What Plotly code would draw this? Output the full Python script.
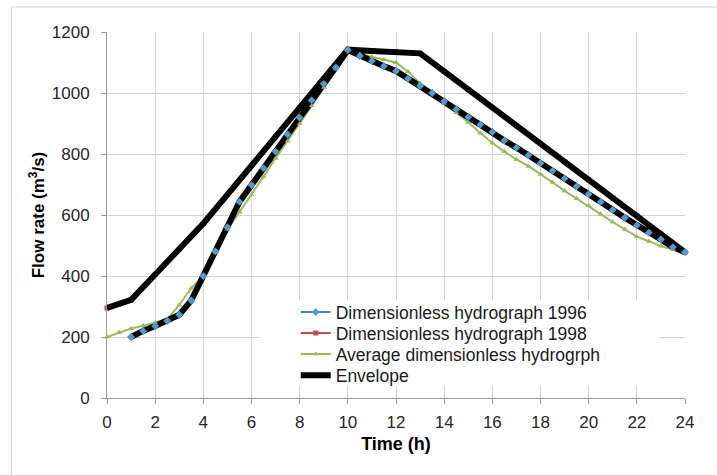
import plotly.graph_objects as go

# ---- data ----
t_1996 = [1, 1.5, 2, 2.5, 3, 3.5, 4, 4.5, 5, 5.5, 6, 6.5, 7, 7.5, 8, 8.5, 9, 9.5, 10,
          10.5, 11, 11.5, 12, 12.5, 13, 13.5, 14, 14.5, 15, 15.5, 16, 16.5, 17, 17.5,
          18, 18.5, 19, 19.5, 20, 20.5, 21, 21.5, 22, 22.5, 23, 23.5, 24]
q_1996 = [200, 220, 236, 253, 273, 320, 400, 481, 560, 643, 698, 754, 808, 864, 919, 976, 1030, 1084, 1141,
          1121, 1105, 1088, 1072, 1047, 1023, 1000, 973, 946, 921, 896, 872, 844, 821, 796,
          770, 745, 720, 694, 668, 643, 617, 591, 566, 542, 520, 495, 478]

t_1998 = [0, 1, 2, 3, 4, 5, 6, 7, 8, 9, 10, 11, 12, 13, 14, 15, 16, 17, 18, 19, 20, 21, 22, 23, 24]
q_1998 = [295, 322, 405, 488, 572, 667, 762, 857, 952, 1047, 1142, 1138, 1134, 1130,
          1071, 1011, 952, 893, 834, 774, 715, 656, 597, 537, 478]

t_avg = [0, 0.5, 1, 1.5, 2, 2.5, 3, 3.5, 4, 4.5, 5, 5.5, 6, 6.5, 7, 7.5, 8, 8.5, 9, 9.5, 10,
         10.5, 11, 11.5, 12, 12.5, 13, 13.5, 14, 14.5, 15, 15.5, 16, 16.5, 17, 17.5,
         18, 18.5, 19, 19.5, 20, 20.5, 21, 21.5, 22, 22.5, 23, 23.5, 24]
q_avg = [200, 215, 228, 237, 247, 258, 305, 360, 400, 476, 553, 610, 666, 726, 786, 843, 899, 958, 1018, 1079, 1140,
         1128, 1118, 1110, 1100, 1070, 1032, 1002, 966, 935, 904, 869, 836, 808, 782, 760,
         734, 707, 679, 654, 630, 603, 577, 553, 529, 514, 498, 487, 478]

# Envelope: upper boundary (1998) out, lower boundary (1996) back
t_env = t_1998 + t_1996[::-1]
q_env = q_1998 + q_1996[::-1]

x_ticks = [0, 2, 4, 6, 8, 10, 12, 14, 16, 18, 20, 22, 24]
y_ticks = [0, 200, 400, 600, 800, 1000, 1200]

names = ["Dimensionless hydrograph 1996", "Dimensionless hydrograph 1998",
         "Average dimensionless hydrogrph", "Envelope"]

BLUE = "#4F81BD"
BLUE_MK = "#4F9BD0"
RED = "#C0504D"
GREEN = "#9BBB59"

fig = go.Figure()
fig.add_trace(go.Scatter(x=t_1996, y=q_1996, name=names[0], mode="lines+markers",
                         line=dict(color=BLUE, width=2),
                         marker=dict(symbol="diamond", size=6, color=BLUE_MK),
                         cliponaxis=False, legend="legend"))
fig.add_trace(go.Scatter(x=t_1998, y=q_1998, name=names[1], mode="lines+markers",
                         line=dict(color=RED, width=2),
                         marker=dict(symbol="square", size=5, color=RED),
                         cliponaxis=False, legend="legend2"))
fig.add_trace(go.Scatter(x=t_avg, y=q_avg, name=names[2], mode="lines+markers",
                         line=dict(color=GREEN, width=2),
                         marker=dict(symbol="triangle-up", size=5, color=GREEN),
                         cliponaxis=False, legend="legend3"))
fig.add_trace(go.Scatter(x=t_env, y=q_env, name=names[3], mode="lines",
                         line=dict(color="black", width=6),
                         cliponaxis=False, legend="legend4"))
# markers drawn above all lines (as in the original)
fig.add_trace(go.Scatter(x=t_avg, y=q_avg, mode="markers", showlegend=False,
                         marker=dict(symbol="triangle-up", size=5, color=GREEN),
                         cliponaxis=False, hoverinfo="skip"))
fig.add_trace(go.Scatter(x=t_1996, y=q_1996, mode="markers", showlegend=False,
                         marker=dict(symbol="diamond", size=6, color=BLUE_MK),
                         cliponaxis=False, hoverinfo="skip"))

GRID = "#d2d2d2"
AXIS = "#9a9a9a"
FONT = "Liberation Sans, Arial, sans-serif"


def leg(y):
    return dict(x=0.3265, y=y, xanchor="left", yanchor="middle",
                bgcolor="rgba(0,0,0,0)", font=dict(size=17.5, color="#1a1a1a"),
                itemwidth=30)


fig.update_layout(
    width=717, height=475,
    margin=dict(l=107, r=32, t=32, b=77),
    paper_bgcolor="white", plot_bgcolor="white",
    font=dict(family=FONT, size=17, color="#262626"),
    showlegend=True,
    legend=leg(0.2345), legend2=leg(0.1771), legend3=leg(0.1196), legend4=leg(0.0621),
    shapes=[
        dict(type="rect", xref="paper", yref="paper", x0=0.2642, x1=0.9562, y0=0.032, y1=0.2674,
             fillcolor="white", line=dict(width=0), layer="above"),
        dict(type="line", xref="paper", yref="paper", x0=-0.1654, x1=-0.1654, y0=-0.4, y1=1.0684,
             line=dict(color="#cfcfcf", width=1), layer="above"),
        dict(type="line", xref="paper", yref="paper", x0=-0.1654, x1=1.2, y0=1.0684, y1=1.0684,
             line=dict(color="#cfcfcf", width=1), layer="above"),
    ],
)

fig.update_xaxes(range=[0, 24], tickvals=x_ticks, ticktext=[str(v) for v in x_ticks],
                 showgrid=True, gridcolor=GRID, gridwidth=1, zeroline=False,
                 showline=True, linecolor=AXIS, linewidth=1,
                 ticks="outside", ticklen=5, tickcolor=AXIS, ticklabelstandoff=4,
                 title=dict(text="<b>Time (h)</b>", font=dict(size=18, color="black"), standoff=5))
fig.update_yaxes(range=[0, 1200], tickvals=y_ticks, ticktext=[str(v) for v in y_ticks],
                 showgrid=True, gridcolor=GRID, gridwidth=1, zeroline=False,
                 showline=True, linecolor=AXIS, linewidth=1,
                 ticks="outside", ticklen=5, tickcolor=AXIS, ticklabelstandoff=8,
                 title=dict(text="<b>Flow rate (m<sup>3</sup>/s)</b>", font=dict(size=17, color="black"), standoff=2))

fig.write_html("out.html")
